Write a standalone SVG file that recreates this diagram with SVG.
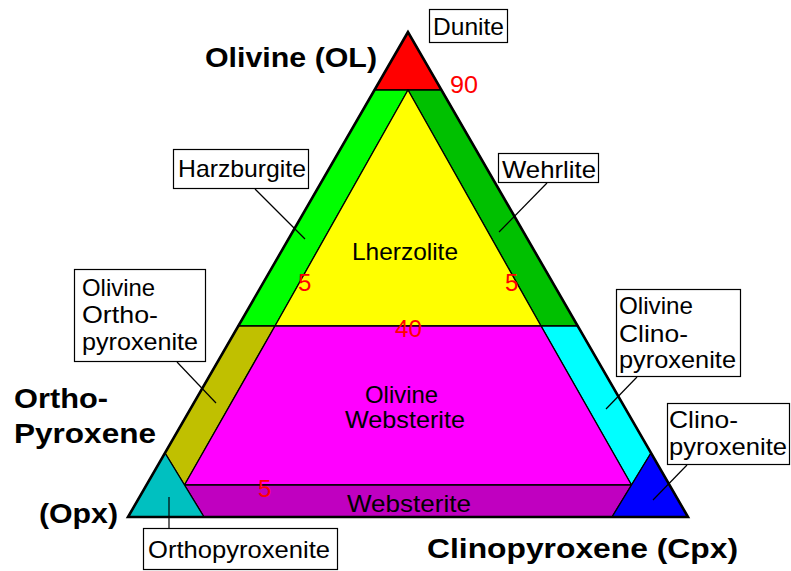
<svg xmlns="http://www.w3.org/2000/svg" width="791" height="571" viewBox="0 0 791 571">
<style>
.rg{stroke:#000;stroke-width:1.3;stroke-linejoin:miter}
.box{fill:#fff;stroke:#000;stroke-width:1.2}
.t{font-family:"Liberation Sans",Arial,sans-serif;font-size:24px;fill:#000}
.b{font-family:"Liberation Sans",Arial,sans-serif;font-size:28px;font-weight:bold;fill:#000}
.n{font-family:"Liberation Sans",Arial,sans-serif;font-size:24px;fill:#ff0000}
.ld{stroke:#000;stroke-width:1.2;fill:none}
</style>
<rect width="791" height="571" fill="#fff"/>
<g id="dunite"><polygon class="rg" points="408,32 374.5,90 441.5,90" fill="#ff0000"/></g>
<g id="harzburgite"><polygon class="rg" points="374.5,90 408,90 275,326 238.3,326" fill="#00ff00"/></g>
<g id="wehrlite"><polygon class="rg" points="408,90 441.5,90 577.7,326 541,326" fill="#00c000"/></g>
<g id="lherzolite"><polygon class="rg" points="408,90 541,326 275,326" fill="#ffff00"/>
<text class="t" x="352" y="260" textLength="106" lengthAdjust="spacingAndGlyphs">Lherzolite</text></g>
<g id="ol-orthopyroxenite"><polygon class="rg" points="238.3,326 275,326 184.5,485 165,453" fill="#c0c000"/></g>
<g id="ol-clinopyroxenite"><polygon class="rg" points="541,326 577.7,326 651,453 631.5,485" fill="#00ffff"/></g>
<g id="ol-websterite"><polygon class="rg" points="275,326 541,326 631.5,485 184.5,485" fill="#ff00ff"/>
<text class="t" x="365" y="403" textLength="73" lengthAdjust="spacingAndGlyphs">Olivine</text>
<text class="t" x="345" y="428" textLength="120" lengthAdjust="spacingAndGlyphs">Websterite</text></g>
<g id="websterite"><polygon class="rg" points="184.5,485 631.5,485 612,517 204,517" fill="#c000c0"/>
<text class="t" x="347" y="512" textLength="124" lengthAdjust="spacingAndGlyphs">Websterite</text></g>
<g id="orthopyroxenite"><polygon class="rg" points="165,453 204,517 128,517" fill="#00c0c0"/></g>
<g id="clinopyroxenite"><polygon class="rg" points="651,453 688,517 612,517" fill="#0000ff"/></g>
<g id="outline"><polygon points="408,32 128,517 688,517" fill="none" stroke="#000" stroke-width="2.6" stroke-linejoin="miter"/></g>
<g id="numbers">
<text class="n" x="450" y="93" textLength="28" lengthAdjust="spacingAndGlyphs">90</text>
<text class="n" x="298" y="291">5</text>
<text class="n" x="505" y="291">5</text>
<text class="n" x="395" y="337" textLength="27" lengthAdjust="spacingAndGlyphs">40</text>
<text class="n" x="258" y="497">5</text>
</g>
<g id="connectors">
<line class="ld" x1="255" y1="189" x2="305" y2="239"/>
<line class="ld" x1="547" y1="183" x2="499" y2="232"/>
<line class="ld" x1="177" y1="362" x2="216" y2="403"/>
<line class="ld" x1="637" y1="377" x2="606" y2="409"/>
<line class="ld" x1="687" y1="465" x2="653" y2="500"/>
<line class="ld" x1="169" y1="497" x2="169" y2="528"/>
</g>
<g id="label-dunite"><rect class="box" x="429.5" y="9.5" width="78" height="33"/>
<text class="t" x="433" y="35" textLength="71" lengthAdjust="spacingAndGlyphs">Dunite</text></g>
<g id="label-harzburgite"><rect class="box" x="173.5" y="149.5" width="135" height="39"/>
<text class="t" x="178" y="177" textLength="128" lengthAdjust="spacingAndGlyphs">Harzburgite</text></g>
<g id="label-wehrlite"><rect class="box" x="498.5" y="153.5" width="100" height="29"/>
<text class="t" x="502" y="178" textLength="94" lengthAdjust="spacingAndGlyphs">Wehrlite</text></g>
<g id="label-ol-orthopyroxenite"><rect class="box" x="74.5" y="269.5" width="131" height="92"/>
<text class="t" x="82" y="296" textLength="73" lengthAdjust="spacingAndGlyphs">Olivine</text>
<text class="t" x="82" y="323" textLength="76" lengthAdjust="spacingAndGlyphs">Ortho-</text>
<text class="t" x="82" y="350" textLength="116" lengthAdjust="spacingAndGlyphs">pyroxenite</text></g>
<g id="label-ol-clinopyroxenite"><rect class="box" x="616.5" y="289.5" width="124" height="87"/>
<text class="t" x="619" y="314" textLength="74" lengthAdjust="spacingAndGlyphs">Olivine</text>
<text class="t" x="619" y="342" textLength="69" lengthAdjust="spacingAndGlyphs">Clino-</text>
<text class="t" x="619" y="368" textLength="117" lengthAdjust="spacingAndGlyphs">pyroxenite</text></g>
<g id="label-clinopyroxenite"><rect class="box" x="667.5" y="403.5" width="122" height="61"/>
<text class="t" x="669" y="428" textLength="69" lengthAdjust="spacingAndGlyphs">Clino-</text>
<text class="t" x="669" y="455" textLength="118" lengthAdjust="spacingAndGlyphs">pyroxenite</text></g>
<g id="label-orthopyroxenite"><rect class="box" x="143.5" y="528.5" width="194" height="41"/>
<text class="t" x="148" y="558" textLength="182" lengthAdjust="spacingAndGlyphs">Orthopyroxenite</text></g>
<g id="apex-labels">
<text class="b" x="205" y="67" textLength="172" lengthAdjust="spacingAndGlyphs">Olivine (OL)</text>
<text class="b" x="14" y="408" textLength="94" lengthAdjust="spacingAndGlyphs">Ortho-</text>
<text class="b" x="14" y="443" textLength="142" lengthAdjust="spacingAndGlyphs">Pyroxene</text>
<text class="b" x="39" y="523" textLength="79" lengthAdjust="spacingAndGlyphs">(Opx)</text>
<text class="b" x="427" y="558" textLength="311" lengthAdjust="spacingAndGlyphs">Clinopyroxene (Cpx)</text>
</g>
</svg>
